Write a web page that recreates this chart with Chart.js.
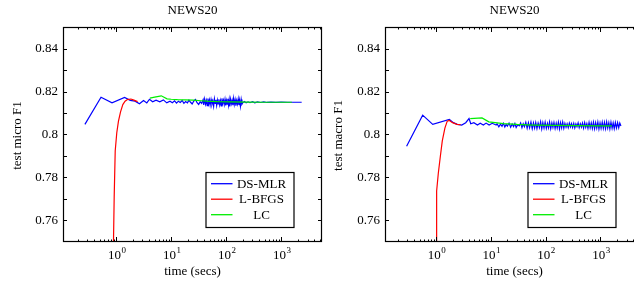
<!DOCTYPE html>
<html><head><meta charset="utf-8">
<script src="https://cdn.jsdelivr.net/npm/chart.js@4.4.0/dist/chart.umd.min.js"></script>
<style>
html,body{margin:0;padding:0;background:#fff;overflow:hidden;width:634px;height:284px;position:relative;}
canvas{position:absolute;top:0;}
#c1{left:0;} #c2{left:317px;}
</style></head><body>
<canvas id="c1" width="330" height="284"></canvas>
<canvas id="c2" width="330" height="284"></canvas>
<script>
// ---------- labels ----------
const chartTitle = 'NEWS20';
const xAxisLabel = 'time (secs)';
const yAxisLabels = ['test micro F1', 'test macro F1'];
const seriesNames = ['DS-MLR', 'L-BFGS', 'LC'];
const yTickLabels = [0.76, 0.78, 0.80, 0.82, 0.84];
const yTickMarks = [0.76, 0.77, 0.78, 0.79, 0.80, 0.81, 0.82, 0.83, 0.84];
const xMajorTicks = [1, 10, 100, 1000];
const xMinorMultipliers = [2, 3, 4, 5, 6, 7, 8, 9];
const xDecades = [0.1, 1, 10, 100, 1000];

// ---------- micro F1 (left) ----------
const dsmlrMicroT = [0.27,0.53,0.84,1.42,1.8,2.2,2.65,3.14,3.6,4.03,4.6,5.3,6.2,7.2,8.3,9.5,
 10.5,11.5,12.5,13.5,14.6,15.8,17,18.3,19.7,21,22.5,24,25.8,27.6,29.5,31.5,33.6,35.8,
 38,39,40.5,42,43.5,45,46.5,48,49.5,51,53,55,57,59,61,63,65,67,69,71,
 73.5,76,78.5,81,83.5,86,89,92,95,98,101,104,107,110,113,116,120,124,128,132,
 136,140,145,150,155,160,165,170,175,181,187,193,
 200,215,230,250,270,300,330,370,420,480,550,650,800,1000,1300,1700,2350];
const dsmlrMicroV = [0.8047,0.8173,0.8147,0.8172,0.8159,0.8155,0.8143,0.8158,0.8147,0.8164,0.8152,0.8160,0.8152,0.8161,0.8147,0.8155,
 0.8148,0.8157,0.8146,0.8155,0.8149,0.8158,0.8145,0.8153,0.8147,0.8160,0.8150,0.8142,0.8156,0.8163,0.8148,0.8140,0.8152,0.8145,
 0.8162,0.8138,0.8165,0.8141,0.8158,0.8134,0.8167,0.8143,0.8160,0.8137,
 0.8163,0.8140,0.8156,0.8132,0.8166,0.8145,0.8161,0.8136,0.8159,0.8142,
 0.8164,0.8138,0.8157,0.8133,0.8168,0.8144,0.8160,0.8139,0.8163,0.8135,
 0.8158,0.8141,0.8166,0.8137,0.8161,0.8130,0.8164,0.8143,0.8159,0.8136,
 0.8167,0.8140,0.8162,0.8134,0.8158,0.8142,0.8165,0.8137,0.8160,0.8131,
 0.8163,0.8141,
 0.8148,0.8153,0.8147,0.8152,0.8148,0.8153,0.8147,0.8152,0.8149,0.8152,0.8149,0.8151,0.8149,0.8151,0.8150,0.8150,0.8150];
const lbfgsMicroT = [0.893,0.92,0.96,1.025,1.10,1.2,1.32,1.45,1.6,1.85,2.1,2.45];
const lbfgsMicroV = [0.75,0.771,0.7923,0.8008,0.8062,0.8105,0.8139,0.8155,0.8163,0.8165,0.8160,0.8153];
const lcMicroT = [4.1,5.0,6.6,8.4,10,13,18,25,35,45,70,120,250,500,1000,1560];
const lcMicroV = [0.8169,0.8174,0.8180,0.8166,0.8164,0.8162,0.8161,0.8160,0.8157,0.8155,0.8153,0.8152,0.8151,0.8150,0.8150,0.8150];

// ---------- macro F1 (right) ----------
const dsmlrMacroT = [0.29,0.57,0.87,1.75,2.07,2.45,2.94,3.48,4.0,4.3,4.9,5.7,6.4,7.3,8.2,9.3,10.6,12.5,
 13,14,15,16,17,18,19,20,21.5,23,24.5,26,27.5,29,31,33,35,37,39,41,
 43.5,46,48.5,51,54,57,60,63,66,69.5,73,77,81,85,89,93.5,98,103,108,113,
 118,124,130,136,142,149,156,163,171,179,187,196,205,215,225,236,247,259,271,284,
 297,311,326,341,357,374,392,410,430,450,471,493,516,540,566,593,621,650,681,713,
 747,782,819,858,898,940,985,1030,1080,1130,1185,1240,1300,1360,1425,1490,1560,1635,1710,1790,
 1875,1965,2060,2160,2260,2370];
const dsmlrMacroV = [0.7945,0.8090,0.8047,0.8070,0.8055,0.8047,0.8044,0.8055,0.8074,0.8050,0.8055,0.8044,0.8052,0.8044,0.8053,0.8044,0.8052,0.8044,
 0.8050,0.8036,0.8048,0.8038,0.8052,0.8035,0.8047,0.8039,0.8053,0.8034,0.8049,0.8037,0.8051,0.8033,0.8046,0.8040,0.8054,0.8032,0.8050,0.8036,
 0.8057,0.8029,0.8055,0.8031,0.8058,0.8027,0.8054,0.8030,0.8056,0.8028,
 0.8053,0.8032,0.8059,0.8026,0.8055,0.8030,0.8057,0.8029,0.8052,0.8031,
 0.8058,0.8027,0.8054,0.8033,0.8056,0.8028,0.8053,0.8030,0.8057,0.8026,
 0.8055,0.8031,0.8058,0.8029,0.8052,0.8034,0.8050,0.8032,0.8053,0.8035,
 0.8051,0.8033,0.8052,0.8031,0.8049,0.8036,0.8054,0.8032,0.8050,0.8034,
 0.8053,0.8030,0.8055,0.8033,0.8051,0.8029,0.8056,0.8031,0.8054,0.8028,
 0.8057,0.8027,0.8055,0.8030,0.8058,0.8026,0.8054,0.8029,0.8057,0.8028,
 0.8056,0.8027,0.8059,0.8030,0.8055,0.8026,0.8057,0.8029,0.8054,0.8027,
 0.8056,0.8030,0.8055,0.8031,0.8053,0.8040];
const lbfgsMacroT = [1.0,1.01,1.04,1.1,1.2,1.3,1.45,1.6,1.75,2.0,2.4,2.8];
const lbfgsMacroV = [0.75,0.766,0.7737,0.782,0.790,0.797,0.803,0.8062,0.8065,0.8055,0.8047,0.8046];
const lcMacroT = [4.2,6.9,9.2,17,30,60,150,400,1000,1620];
const lcMacroV = [0.8074,0.8077,0.8059,0.8051,0.8047,0.8044,0.8042,0.8041,0.8040,0.8040];

const colors = ['#0000ff', '#ff0000', '#00ee00'];
const FONT = '"Liberation Serif", "Times New Roman", serif';

function pts(t, v) { return t.map((x, i) => ({x: x, y: v[i]})); }

function pgfPlugin(yLabel, yLabelX) {
  return {
    id: 'pgfaxes',
    afterDraw(chart) {
      const ctx = chart.ctx, a = chart.chartArea;
      const xs = chart.scales.x, ys = chart.scales.y;
      ctx.save();
      ctx.strokeStyle = '#000';
      ctx.lineWidth = 1;
      ctx.beginPath();
      // y ticks inward (left & right)
      yTickMarks.forEach(v => {
        const y = Math.round(ys.getPixelForValue(v)) + 0.5;
        ctx.moveTo(a.left, y); ctx.lineTo(a.left + 4, y);
        ctx.moveTo(a.right, y); ctx.lineTo(a.right - 4, y);
      });
      // x ticks inward (bottom & top)
      const xmin = xs.min, xmax = xs.max;
      xDecades.forEach(d => {
        xMinorMultipliers.forEach(m => {
          const v = d * m;
          if (v <= xmin || v >= xmax) return;
          const x = Math.round(xs.getPixelForValue(v)) + 0.5;
          ctx.moveTo(x, a.bottom); ctx.lineTo(x, a.bottom - 2.5);
          ctx.moveTo(x, a.top); ctx.lineTo(x, a.top + 2.5);
        });
      });
      xMajorTicks.forEach(v => {
        const x = Math.round(xs.getPixelForValue(v)) + 0.5;
        ctx.moveTo(x, a.bottom); ctx.lineTo(x, a.bottom - 5);
        ctx.moveTo(x, a.top); ctx.lineTo(x, a.top + 5);
      });
      ctx.stroke();
      // frame
      ctx.lineWidth = 1.2;
      ctx.strokeRect(a.left + 0.5, a.top + 0.5, a.right - a.left - 1, a.bottom - a.top - 1);

      ctx.fillStyle = '#000';
      // y tick labels
      ctx.font = '13px ' + FONT;
      ctx.textAlign = 'right';
      ctx.textBaseline = 'middle';
      yTickLabels.forEach(v => {
        const y = ys.getPixelForValue(v);
        ctx.fillText(String(v === 0.80 ? '0.8' : v), a.left - 5, y + 0.5);
      });
      // x tick labels 10^k
      ctx.textBaseline = 'alphabetic';
      ctx.textAlign = 'left';
      xMajorTicks.forEach(v => {
        const k = String(Math.round(Math.log10(v)));
        ctx.font = '13px ' + FONT;
        const w1 = ctx.measureText('10').width;
        ctx.font = '9px ' + FONT;
        const w2 = ctx.measureText(k).width;
        const x = xs.getPixelForValue(v);
        const x0 = x - (w1 + w2) / 2 + 0.5;
        ctx.font = '13px ' + FONT;
        ctx.fillText('10', x0, a.bottom + 17);
        ctx.font = '9px ' + FONT;
        ctx.fillText(k, x0 + w1 + 0.5, a.bottom + 11);
      });
      // axis titles
      ctx.font = '13px ' + FONT;
      ctx.textAlign = 'center';
      ctx.textBaseline = 'middle';
      const cx = (a.left + a.right) / 2;
      ctx.fillText(xAxisLabel, cx, a.bottom + 30);
      ctx.fillText(chartTitle, cx, 11);
      ctx.save();
      ctx.translate(yLabelX, (a.top + a.bottom) / 2 + 1);
      ctx.rotate(-Math.PI / 2);
      ctx.fillText(yLabel, 0, 0);
      ctx.restore();

      // legend
      const lx = a.left + 142.5, ly = a.top + 145, lw = 88, lh = 55;
      ctx.fillStyle = '#fff';
      ctx.fillRect(lx, ly, lw, lh);
      ctx.lineWidth = 1.2;
      ctx.strokeStyle = '#000';
      ctx.strokeRect(lx + 0.5, ly + 0.5, lw, lh);
      chart.data.datasets.forEach((ds, i) => {
        const rowY = ly + 11.7 + i * 15.5;
        ctx.strokeStyle = ds.borderColor;
        ctx.lineWidth = 1.3;
        ctx.beginPath();
        ctx.moveTo(lx + 5.5, rowY); ctx.lineTo(lx + 27, rowY);
        ctx.stroke();
        ctx.fillStyle = '#000';
        ctx.font = '13px ' + FONT;
        ctx.textAlign = 'center';
        ctx.textBaseline = 'middle';
        ctx.fillText(ds.label, lx + 56, rowY + 0.5);
      });
      ctx.restore();
    }
  };
}

function makeChart(id, series, xmin, xmax, padLeft, padRight, yLabel, yLabelX) {
  const datasets = series.map((s, i) => ({
    label: seriesNames[i],
    data: pts(s[0], s[1]),
    borderColor: colors[i],
    backgroundColor: colors[i],
    borderWidth: 1.2,
    pointRadius: 0,
    tension: 0,
    fill: false,
    order: [2, 0, 1][i]
  }));
  return new Chart(document.getElementById(id), {
    type: 'line',
    data: { datasets },
    options: {
      responsive: false,
      animation: false,
      devicePixelRatio: 1,
      events: [],
      layout: { padding: { left: padLeft, right: padRight, top: 27, bottom: 42 } },
      plugins: { legend: { display: false }, tooltip: { enabled: false }, title: { display: false } },
      scales: {
        x: { type: 'logarithmic', min: xmin, max: xmax, display: false },
        y: { type: 'linear', min: 0.75, max: 0.85, display: false }
      }
    },
    plugins: [pgfPlugin(yLabel, yLabelX)]
  });
}

makeChart('c1', [[dsmlrMicroT, dsmlrMicroV], [lbfgsMicroT, lbfgsMicroV], [lcMicroT, lcMicroV]],
  0.108, 5500, 63, 8, yAxisLabels[0], 17.5);
makeChart('c2', [[dsmlrMacroT, dsmlrMacroV], [lbfgsMacroT, lbfgsMacroV], [lcMacroT, lcMacroV]],
  0.117, 6250, 68, 3, yAxisLabels[1], 22);
</script>
</body></html>
